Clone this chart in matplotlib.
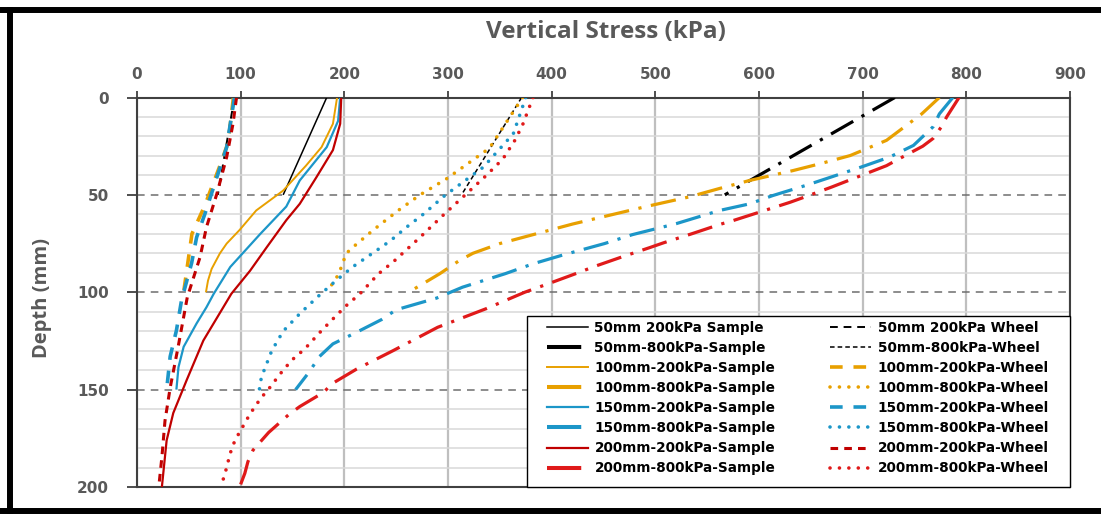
import matplotlib
matplotlib.use("Agg")
import matplotlib.pyplot as plt
from matplotlib.lines import Line2D
from matplotlib.patches import Rectangle

# ---------------- data (stress in kPa, depth in mm) ----------------
d_50_200_s = [0, 50]
v_50_200_s = [183, 141]
d_50_800_s = [0, 50]
v_50_800_s = [731, 567]
d_50_200_w = [0, 50]
v_50_200_w = [94, 78]
d_50_800_w = [0, 50]
v_50_800_w = [371, 313]

d_100_200_s = [0, 13.5, 25.5, 35, 47.8, 58, 68, 75, 80, 88, 94, 100]
v_100_200_s = [193, 189, 178, 163, 141, 115, 99, 86.5, 80, 72, 68.5, 66.5]
d_100_800_s = [0, 8.4, 22, 29.8, 34, 37.5, 42.6, 46.7, 51, 56, 65, 75, 80, 83.7, 90.5, 100]
v_100_800_s = [774, 757, 723, 688, 659, 633, 591, 562, 533, 491, 420, 350, 324, 311, 292, 262]
d_100_200_w = [0, 23, 35, 56, 70, 85, 100]
v_100_200_w = [93, 88, 80, 65, 53, 49, 45]
d_100_800_w = [0, 26, 41.6, 50, 58, 68, 77, 80, 87, 90.5, 95, 100]
v_100_800_w = [372, 340, 299, 273, 252, 228, 208, 202, 197, 195, 189, 184]

d_150_200_s = [0, 12, 25.5, 42.6, 56, 70, 87, 100.8, 107.7, 116, 128, 138.5, 150]
v_150_200_s = [196, 194, 183, 157, 144, 119, 90, 74, 67, 57.5, 45, 40, 38]
d_150_800_s = [0, 8.4, 15, 24.6, 30.6, 36, 45, 50.4, 54.6, 58, 64.8, 70.4, 75, 81, 85.4,
               90.5, 97.4, 103, 109, 114, 120.5, 126.5, 133, 141, 150]
v_150_800_s = [787, 774, 768, 749, 726, 697, 646, 613, 591, 562, 520, 478, 451, 410, 382,
               355, 314, 289, 250, 236, 212, 189, 176, 166, 153]
d_150_200_w = [0, 25.5, 41, 59.6, 71.8, 85, 104, 119.7, 133, 150]
v_150_200_w = [94, 86.5, 77, 65.6, 57.5, 52.7, 43, 38, 32, 28.6]
d_150_800_w = [0, 18.6, 35.8, 50.3, 60, 67, 72, 76, 87, 94, 102, 111, 120, 130, 143.6, 150]
v_150_800_w = [375, 363, 334, 297, 276, 259, 248, 238, 208, 192, 175, 157, 141, 130, 120, 118]

d_200_200_s = [0, 13.5, 27, 41, 54.6, 63, 77, 89, 100.8, 124.8, 145, 162, 176, 200]
v_200_200_s = [197, 196, 189, 173, 157, 144, 125, 109, 91, 64, 48, 35, 28.6, 24]
d_200_800_s = [0, 10, 15, 21, 25, 31.8, 35, 40.6, 46, 51.5, 53.8, 58.6, 63.2, 65.2, 70, 74.6,
               77, 82, 87, 89.7, 94.8, 100, 108.4, 118, 130, 139.4, 147, 151.4, 158.7, 163,
               172, 181, 187, 193, 200]
v_200_800_s = [793, 781, 776, 768, 758, 734, 723, 696, 670, 642, 630, 602, 575, 562, 535, 508,
               495, 467, 440, 427, 401, 374, 337, 290, 247, 212, 188, 180, 157, 146,
               127, 112, 107, 104, 99]
d_200_200_w = [0, 13.5, 30.6, 49.5, 66.6, 82, 102.6, 128, 149, 166, 184.7, 200]
v_200_200_w = [96, 92.6, 86.5, 77, 67, 60.8, 48.5, 39.7, 32, 27, 24, 21]
d_200_800_w = [0, 14, 22, 31.5, 40, 50.3, 60.6, 71.8, 84, 90.5, 100.8, 106.8, 113.7, 119.7,
               129, 135, 142, 149, 154.7, 162.5, 170, 176, 183, 190, 200]
v_200_800_w = [382, 372, 364.5, 353, 337, 316, 295, 273, 248, 233, 215, 202, 189, 178,
               162, 149, 138, 128, 119, 109, 101, 94.5, 89.7, 86.5, 81]

x_ticks = [0, 100, 200, 300, 400, 500, 600, 700, 800, 900]
y_ticks = [0, 50, 100, 150, 200]

labels_sample = ["50mm 200kPa Sample", "50mm-800kPa-Sample", "100mm-200kPa-Sample",
                 "100mm-800kPa-Sample", "150mm-200kPa-Sample", "150mm-800kPa-Sample",
                 "200mm-200kPa-Sample", "200mm-800kPa-Sample"]
labels_wheel = ["50mm 200kPa Wheel", "50mm-800kPa-Wheel", "100mm-200kPa-Wheel",
                "100mm-800kPa-Wheel", "150mm-200kPa-Wheel", "150mm-800kPa-Wheel",
                "200mm-200kPa-Wheel", "200mm-800kPa-Wheel"]

# ---------------- styles ----------------
BLACK = "#000000"
ORANGE = "#E8A000"
BLUE = "#1C96C8"
DRED = "#C00000"
RED = "#E01A1A"
DASHDOT = (0, (8, 3, 1, 3))
DOT = (0, (0.01, 2.6))

fig = plt.figure(figsize=(11.01, 5.14), dpi=100)
AX_L, AX_R, AX_T, AX_B = 137, 1070, 97.5, 487
ax = fig.add_axes([AX_L / 1101, 1 - AX_B / 514, (AX_R - AX_L) / 1101, (AX_B - AX_T) / 514])


def ax_x(px):
    return (px - AX_L) / (AX_R - AX_L)


def ax_y(py):
    return (AX_B - py) / (AX_B - AX_T)


sample_series = [
    (v_50_200_s, d_50_200_s, BLACK, 1.1, "-"),
    (v_50_800_s, d_50_800_s, BLACK, 2.3, DASHDOT),
    (v_100_200_s, d_100_200_s, ORANGE, 1.4, "-"),
    (v_100_800_s, d_100_800_s, ORANGE, 2.3, DASHDOT),
    (v_150_200_s, d_150_200_s, BLUE, 1.6, "-"),
    (v_150_800_s, d_150_800_s, BLUE, 2.3, DASHDOT),
    (v_200_200_s, d_200_200_s, DRED, 1.6, "-"),
    (v_200_800_s, d_200_800_s, RED, 2.3, DASHDOT),
]
wheel_series = [
    (v_50_200_w, d_50_200_w, BLACK, 1.4, (0, (4, 3))),
    (v_50_800_w, d_50_800_w, BLACK, 1.1, (0, (3, 2))),
    (v_100_200_w, d_100_200_w, ORANGE, 2.6, (0, (3.5, 3))),
    (v_100_800_w, d_100_800_w, ORANGE, 2.6, DOT),
    (v_150_200_w, d_150_200_w, BLUE, 2.6, (0, (3.5, 3))),
    (v_150_800_w, d_150_800_w, BLUE, 2.6, DOT),
    (v_200_200_w, d_200_200_w, DRED, 2.2, (0, (2.5, 2))),
    (v_200_800_w, d_200_800_w, RED, 2.6, DOT),
]

handles = []
for (x, y, c, lw, ls), lab in zip(sample_series, labels_sample):
    ax.plot(x, y, color=c, lw=lw, linestyle=ls, solid_capstyle="butt",
            dash_capstyle="butt", zorder=3)
    if ls == DASHDOT:
        h = Line2D([], [], color=c, lw=lw + 0.6, linestyle=(0, (8.5, 20)), dash_capstyle="butt")
    else:
        h = Line2D([], [], color=c, lw=lw, linestyle="-")
    handles.append((h, lab))
for (x, y, c, lw, ls), lab in zip(wheel_series, labels_wheel):
    cap = "round" if ls == DOT else "butt"
    ax.plot(x, y, color=c, lw=lw, linestyle=ls, dash_capstyle=cap, zorder=3)
    handles.append((Line2D([], [], color=c, lw=lw, linestyle=ls, dash_capstyle=cap), lab))

# ---------------- axes ----------------
ax.set_xlim(0, 900)
ax.set_ylim(200, 0)
ax.xaxis.tick_top()
ax.set_xticks(x_ticks)
ax.set_yticks(y_ticks)
ax.set_yticks(range(0, 201, 10), minor=True)

tick_font = dict(fontsize=11, fontweight="bold", color="#595959")
ax.set_xticklabels([str(t) for t in x_ticks], **tick_font)
ax.set_yticklabels([str(t) for t in y_ticks], **tick_font)
ax.tick_params(axis="x", which="major", direction="out", length=5, width=1.3,
               color="#404040", pad=6)
ax.tick_params(axis="y", which="major", direction="out", length=7, width=1.3,
               color="#404040", pad=13)
ax.tick_params(axis="y", which="minor", length=0)

ax.grid(axis="x", which="major", color="#BFBFBF", lw=1.6, zorder=0)
ax.grid(axis="y", which="minor", color="#D9D9D9", lw=1.1, zorder=0)
ax.grid(axis="y", which="major", color="#6E6E6E", lw=1.1, linestyle=(0, (5, 4)), zorder=1)
ax.set_axisbelow(True)

for s in ax.spines.values():
    s.set_color("#404040")
    s.set_linewidth(1.5)

# legend frame drawn separately so the entries can be placed freely
ax.add_patch(Rectangle((ax_x(527), 0), 1 - ax_x(527), ax_y(316), transform=ax.transAxes,
                       facecolor="white", edgecolor="black", lw=1.0, zorder=4,
                       clip_on=False))
lx0, lx1 = ax_x(540), ax_x(1056)
ly0, ly1 = ax_y(480), ax_y(316)
leg = ax.legend([h for h, _ in handles], [l for _, l in handles], ncol=2,
                loc="center", bbox_to_anchor=(lx0, ly0, lx1 - lx0, ly1 - ly0),
                mode="expand", borderaxespad=0, frameon=False,
                prop=dict(family="DejaVu Sans", weight="bold", size=9.8),
                handlelength=3.0, handletextpad=0.5, columnspacing=1.5,
                labelspacing=0.45, borderpad=0.5)
leg.set_zorder(5)

title_font = ["Open Sans", "Lato", "DejaVu Sans"]
fig.text(606 / 1101, 1 - 32 / 514, "Vertical Stress (kPa)", ha="center", va="center",
         fontsize=17.5, fontweight="bold", color="#595959", family=title_font)
fig.text(42 / 1101, 1 - 298 / 514, "Depth (mm)", ha="center", va="center", rotation=90,
         fontsize=14.5, fontweight="bold", color="#595959", family=title_font)

# ---------------- outer frame ----------------
fw = 4.3
fig.add_artist(Line2D([0.0, 1.0], [1 - 9.7 / 514] * 2, color="black", lw=fw,
                      transform=fig.transFigure))
fig.add_artist(Line2D([0.0, 1.0], [1 - 511 / 514] * 2, color="black", lw=fw,
                      transform=fig.transFigure))
fig.add_artist(Line2D([9.7 / 1101] * 2, [1 - 9.7 / 514, 1 - 511 / 514], color="black", lw=fw,
                      transform=fig.transFigure))

fig.savefig("out.png", dpi=100, facecolor="white")
